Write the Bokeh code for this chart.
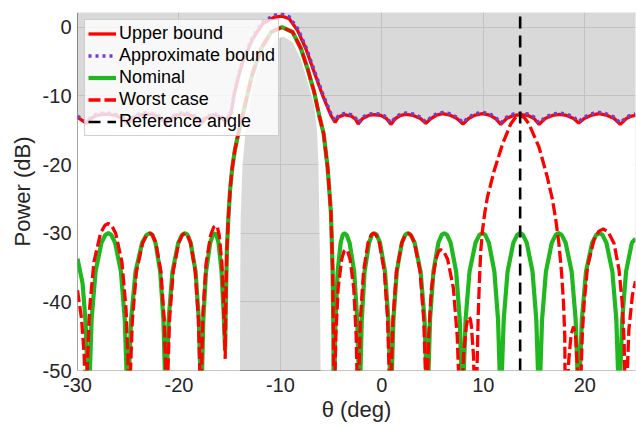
from bokeh.plotting import figure
from bokeh.models import Range1d, FixedTicker, Span
from bokeh.embed import file_html
from bokeh.resources import INLINE

# ---------------- data ----------------
x_lim = [-30, 25]
y_lim = [-50, 2.14]
x_ticks = [-30, -20, -10, 0, 10, 20]
x_tick_labels = ["-30", "-20", "-10", "0", "10", "20"]
y_ticks = [-50, -40, -30, -20, -10, 0]
y_tick_labels = ["-50", "-40", "-30", "-20", "-10", "0"]
ref_angle = 13.63
floor_level = -60

# Upper bound
ub_x = [-30.0, -29.1, -28.7, -28.1, -27.2, -26.3, -25.5, -25.05, -24.6, -23.9, -23.2, -22.4, -21.75, -21.3,
        -20.85, -20.2, -19.55, -18.9, -18.25, -17.8, -17.4, -16.6, -15.9, -15.4, -14.87, -14.55, -14.15,
        -13.72, -13.2, -12.74, -11.75, -10.6, -9.8, -9.13, -8.3, -7.49, -6.67, -5.84, -5.02, -4.6, -4.3,
        -3.7, -3.0, -2.6, -2.33, -1.9, -1.3, -0.75, -0.1, 0.45, 0.89, 1.35, 1.85, 2.36, 3.1, 3.8, 4.33,
        4.85, 5.4, 5.98, 6.7, 7.4, 8.0, 8.55, 9.2, 9.92, 10.6, 11.2, 11.72, 12.3, 12.95, 13.7, 14.4, 15.0,
        15.5, 16.1, 16.8, 17.5, 18.2, 18.9, 19.4, 20.0, 20.7, 21.4, 22.1, 22.9, 23.5, 24.1, 24.6, 25.0]
ub_y = [-13.15, -14.0, -13.3, -12.85, -12.65, -12.85, -13.3, -14.05, -13.3, -12.8, -12.65, -12.8, -13.3, -14.05,
        -13.3, -12.8, -12.65, -12.8, -13.3, -14.05, -13.3, -12.75, -13.1, -13.75, -12.6, -9.8, -7.3,
        -5.1, -3.3, -1.7, 0.5, 1.46, 1.6, 1.22, -0.5, -3.14, -6.55, -9.94, -12.85, -13.85, -13.1,
        -12.75, -12.95, -13.4, -14.1, -13.3, -12.85, -12.75, -12.85, -13.3, -14.15, -13.3, -12.85, -12.7, -12.85, -13.3, -14.0,
        -13.3, -12.8, -12.6, -12.8, -13.3, -14.1, -13.3, -12.8, -12.6, -12.8, -13.3, -14.15, -13.3, -12.85, -12.75, -12.85, -13.3,
        -14.15, -13.3, -12.85, -12.7, -12.85, -13.3, -13.95, -13.25, -12.8, -12.6, -12.8, -13.3, -14.15, -13.3, -12.95, -12.85]

# Approximate bound (sits just above the upper bound)
ap_y = [-12.95, -13.8, -13.1, -12.65, -12.45, -12.65, -13.1, -13.85, -13.1, -12.6, -12.45, -12.6, -13.1, -13.85,
        -13.1, -12.6, -12.45, -12.6, -13.1, -13.85, -13.1, -12.55, -12.9, -13.55, -12.35, -9.5, -7.0,
        -4.8, -3.0, -1.4, 0.8, 1.75, 1.9, 1.52, -0.2, -2.85, -6.25, -9.65, -12.6, -13.65, -12.9,
        -12.55, -12.75, -13.2, -13.9, -13.1, -12.65, -12.55, -12.65, -13.1, -13.95, -13.1, -12.65, -12.5, -12.65, -13.1, -13.8,
        -13.1, -12.6, -12.4, -12.6, -13.1, -13.9, -13.1, -12.6, -12.4, -12.6, -13.1, -13.95, -13.1, -12.65, -12.55, -12.65, -13.1,
        -13.95, -13.1, -12.65, -12.5, -12.65, -13.1, -13.75, -13.05, -12.6, -12.4, -12.6, -13.1, -13.95, -13.1, -12.75, -12.65]

# Lower mask of the main beam (grey area inside the beam)
lb_x = [-14.0, -13.97, -13.92, -13.75, -13.45, -12.95, -12.3, -11.3, -10.3, -9.7, -8.8, -8.0, -7.32, -6.67,
        -6.38, -6.25, -6.12, -6.0]
lb_y = [-60.0, -40.0, -28.0, -20.4, -15.5, -10.7, -6.3, -3.4, -1.7, -1.35, -2.2, -4.6, -8.0, -11.4,
        -15.3, -20.0, -32.0, -60.0]

# Nominal pattern
nom_x = [-30.0, -29.5, -29.2, -29.03, -28.9,
         -28.78, -28.61, -28.22, -27.64, -27.25, -26.96, -26.67, -26.29, -25.72, -25.34, -25.17, -25.05,
         -24.92, -24.72, -24.28, -23.63, -23.19, -22.86, -22.63, -22.31, -21.85, -21.53, -21.39, -21.3,
         -21.19, -21.02, -20.64, -20.07, -19.69, -19.4, -19.16, -18.84, -18.36, -18.04, -17.9, -17.8,
         -17.72, -17.6, -17.33, -16.92, -16.65, -16.45, -16.3, -16.1, -15.8, -15.6, -15.45,
         -15.38, -15.28, -15.12, -14.95, -14.75, -14.5, -14.15, -13.5, -12.8, -11.9, -10.9, -9.85,
         -8.8, -7.98, -7.32, -6.67, -6.18, -5.74, -5.35, -5.02, -4.86, -4.77, -4.72,
         -4.66, -4.57, -4.36, -4.06, -3.85, -3.7, -3.48, -3.18, -2.73, -2.43, -2.29, -2.2,
         -2.11, -1.98, -1.7, -1.26, -0.98, -0.76, -0.51, -0.18, 0.31, 0.64, 0.79, 0.89,
         0.99, 1.14, 1.47, 1.97, 2.30, 2.55, 2.84, 3.23, 3.82, 4.21, 4.38, 4.5,
         4.6, 4.75, 5.08, 5.57, 5.90, 6.15, 6.42, 6.78, 7.32, 7.68, 7.84, 7.95,
         8.07, 8.25, 8.64, 9.23, 9.62, 9.92, 10.19, 10.55, 11.09, 11.45, 11.61, 11.72,
         11.83, 12.01, 12.39, 12.96, 13.34, 13.63, 13.91, 14.28, 14.85, 15.22, 15.39, 15.5,
         15.62, 15.79, 16.17, 16.75, 17.13, 17.42, 17.72, 18.11, 18.71, 19.1, 19.28, 19.4,
         19.52, 19.71, 20.12, 20.73, 21.14, 21.45, 21.74, 22.13, 22.72, 23.11, 23.28, 23.4,
         23.51, 23.69, 24.07, 24.64, 25.0]
nom_y = [-33.7, -37.3, -43.0, -50.2, -70.0,
         -50.2, -42.6, -35.6, -31.4, -30.24, -30.0, -30.24, -31.4, -35.6, -42.6, -50.2, -70.0,
         -50.2, -42.6, -35.6, -31.4, -30.24, -30.0, -30.24, -31.4, -35.6, -42.6, -50.2, -70.0,
         -50.2, -42.6, -35.6, -31.4, -30.24, -30.0, -30.24, -31.4, -35.6, -42.6, -50.2, -70.0,
         -50.2, -42.6, -35.6, -31.4, -30.24, -30.0, -30.24, -31.4, -35.6, -41.5, -47.0,
         -40.0, -32.5, -27.5, -23.5, -20.5, -18.0, -15.5, -11.4, -7.0, -3.1, -0.7, 0.0,
         -0.7, -3.1, -6.05, -9.46, -12.85, -15.5, -20.4, -27.0, -35.0, -45.0, -70.0,
         -50.2, -42.6, -35.6, -31.4, -30.24, -30.0, -30.24, -31.4, -35.6, -42.6, -50.2, -70.0,
         -50.2, -42.6, -35.6, -31.4, -30.24, -30.0, -30.24, -31.4, -35.6, -42.6, -50.2, -70.0,
         -50.2, -42.6, -35.6, -31.4, -30.24, -30.0, -30.24, -31.4, -35.6, -42.6, -50.2, -70.0,
         -50.2, -42.6, -35.6, -31.4, -30.24, -30.0, -30.24, -31.4, -35.6, -42.6, -50.2, -70.0,
         -50.2, -42.6, -35.6, -31.4, -30.24, -30.0, -30.24, -31.4, -35.6, -42.6, -50.2, -70.0,
         -50.2, -42.6, -35.6, -31.4, -30.24, -30.0, -30.24, -31.4, -35.6, -42.6, -50.2, -70.0,
         -50.2, -42.6, -35.6, -31.4, -30.24, -30.0, -30.24, -31.4, -35.6, -42.6, -50.2, -70.0,
         -50.2, -42.6, -35.6, -31.4, -30.24, -30.0, -30.24, -31.4, -35.6, -42.6, -50.2, -70.0,
         -50.2, -42.6, -35.6, -31.4, -30.8]

# Worst case pattern
wc_x = [-30.0, -29.6, -29.35, -29.25, -29.15,
        -29.02, -28.82, -28.38, -27.73, -27.29, -26.96, -26.65, -26.24, -25.62, -25.21, -25.02, -24.9,
        -24.78, -24.59, -24.19, -23.57, -23.17, -22.86, -22.61, -22.28, -21.78, -21.45, -21.3, -21.2,
        -21.09, -20.93, -20.57, -20.03, -19.67, -19.4, -19.17, -18.86, -18.39, -18.08, -17.94, -17.85,
        -17.76, -17.63, -17.33, -16.88, -16.58, -16.35, -16.21, -16.03, -15.76, -15.58, -15.44,
        -15.38, -15.28, -15.12, -14.95, -14.75, -14.5, -14.15, -13.5, -12.8, -11.9, -10.9, -9.85,
        -8.8, -7.98, -7.32, -6.67, -6.18, -5.74, -5.35, -5.02, -4.86, -4.77, -4.72,
        -4.65, -4.54, -4.31, -3.96, -3.73, -3.55, -3.37, -3.13, -2.77, -2.53, -2.42, -2.35,
        -2.26, -2.12, -1.81, -1.36, -1.05, -0.82, -0.57, -0.25, 0.25, 0.57, 0.72, 0.82,
        0.93, 1.09, 1.44, 1.97, 2.32, 2.59, 2.86, 3.22, 3.77, 4.13, 4.29, 4.4,
        4.48, 4.61, 4.89, 5.32, 5.6, 5.81, 6.1, 6.48, 7.05, 7.43, 7.61, 7.72,
        7.88, 8.05, 8.32, 8.47, 8.6, 8.72, 8.83, 9.03, 9.16, 9.26,
        9.35, 9.49, 9.63, 9.75, 9.92, 10.15, 10.41, 11.07, 11.9, 12.7, 13.15, 13.63, 14.05, 14.5,
        15.5, 16.3, 16.8, 17.14, 17.45, 17.7, 17.9, 18.03, 18.13,
        18.25, 18.42, 18.65, 18.9, 19.1, 19.27, 19.37, 19.44,
        19.6, 19.75, 19.93, 20.27, 20.9, 21.4, 21.82, 22.3, 22.89, 23.38, 23.7, 23.88, 23.97, 24.04,
        24.15, 24.35, 24.7, 25.0]
wc_y = [-38.3, -42.5, -47.5, -52.0, -70.0,
        -48.8, -41.2, -34.2, -30.0, -28.84, -28.6, -28.84, -30.0, -34.2, -41.2, -48.8, -70.0,
        -50.2, -42.6, -35.6, -31.4, -30.24, -30.0, -30.24, -31.4, -35.6, -42.6, -50.2, -70.0,
        -50.2, -42.6, -35.6, -31.4, -30.24, -30.0, -30.24, -31.4, -35.6, -42.6, -50.2, -70.0,
        -49.1, -41.5, -34.5, -30.3, -29.14, -28.9, -29.14, -30.3, -34.5, -41.5, -48.3,
        -40.0, -32.5, -27.5, -23.5, -20.5, -18.0, -15.5, -11.4, -7.0, -3.1, -0.7, 0.0,
        -0.7, -3.1, -6.05, -9.46, -12.85, -15.5, -20.4, -27.0, -35.0, -45.0, -70.0,
        -52.6, -45.0, -38.0, -33.8, -32.64, -32.4, -32.64, -33.8, -38.0, -45.0, -52.6, -70.0,
        -50.2, -42.6, -35.6, -31.4, -30.24, -30.0, -30.24, -31.4, -35.6, -42.6, -50.2, -70.0,
        -50.2, -42.6, -35.6, -31.4, -30.24, -30.0, -30.24, -31.4, -35.6, -42.6, -50.2, -70.0,
        -52.6, -45.0, -38.0, -33.8, -32.64, -32.4, -32.64, -33.8, -38.0, -45.0, -52.6, -70.0,
        -54.8, -47.8, -43.6, -42.5, -42.2, -42.5, -43.6, -47.8, -54.8, -70.0,
        -52.0, -42.2, -36.4, -32.5, -29.6, -27.0, -24.7, -20.9, -17.0, -14.1, -13.2, -12.85, -13.2, -14.1,
        -17.5, -21.8, -25.0, -28.0, -31.5, -35.5, -40.0, -45.0, -70.0,
        -55.0, -48.5, -44.8, -43.6, -45.0, -49.5, -56.0, -70.0,
        -52.0, -45.0, -40.3, -34.9, -31.0, -29.7, -29.4, -29.8, -31.5, -35.4, -40.3, -46.0, -53.0, -70.0,
        -52.0, -44.0, -39.0, -37.0]

# ---------------- figure ----------------
FONT = "Liberation Sans"
TXT = "#262626"

p = figure(width=636, height=427,
           x_range=Range1d(x_lim[0], x_lim[1]), y_range=Range1d(y_lim[0], y_lim[1]),
           output_backend="svg", toolbar_location=None,
           min_border_left=77, min_border_right=1, min_border_top=12, min_border_bottom=57)
p.background_fill_color = "#d9d9d9"
p.border_fill_color = "white"
p.outline_line_color = None

p.xgrid.ticker = FixedTicker(ticks=x_ticks)
p.ygrid.ticker = FixedTicker(ticks=y_ticks)
p.grid.grid_line_color = "#c2c2c2"
p.grid.grid_line_width = 1

for ax, ticks, labels in ((p.xaxis, x_ticks, x_tick_labels), (p.yaxis, y_ticks, y_tick_labels)):
    ax.ticker = FixedTicker(ticks=ticks)
    ax.major_label_overrides = {t: l for t, l in zip(ticks, labels)}
    ax.major_label_text_font = FONT
    ax.major_label_text_font_size = "20px"
    ax.major_label_text_color = TXT
    ax.axis_label_text_font = FONT
    ax.axis_label_text_font_size = "22px"
    ax.axis_label_text_font_style = "normal"
    ax.axis_label_text_color = TXT
    ax.major_tick_in = 0
    ax.major_tick_out = 0
    ax.minor_tick_in = 0
    ax.minor_tick_out = 0
    ax.axis_line_color = None

p.xaxis.axis_label = "θ (deg)"
p.yaxis.axis_label = "Power (dB)"
p.xaxis.major_label_standoff = 7
p.yaxis.major_label_standoff = 6
p.xaxis.axis_label_standoff = 2
p.yaxis.axis_label_standoff = 5

# axis lines under the white region, so they show dark only where the background is grey
p.add_layout(Span(location=x_lim[0], dimension="height", line_color=TXT, line_width=1, level="underlay"))
p.add_layout(Span(location=y_lim[0], dimension="width", line_color=TXT, line_width=1, level="underlay"))

# feasible (white) region: below the upper bound and outside the main-beam lower mask
poly_x = ub_x + [ub_x[-1], lb_x[-1]] + lb_x[::-1] + [lb_x[0], ub_x[0]]
poly_y = ub_y + [floor_level, floor_level] + lb_y[::-1] + [floor_level, floor_level]
p.patch(poly_x, poly_y, fill_color="white", line_color=None)

p.line(ub_x, ub_y, line_color="#ff0000", line_width=3.3, legend_label="Upper bound")
p.line(ub_x, ap_y, line_color="#6f3fc7", line_width=3.4, line_dash="3 4", legend_label="Approximate bound")
p.line(nom_x, nom_y, line_color="#1fb81f", line_width=4.2, legend_label="Nominal")
p.line(wc_x, wc_y, line_color="#ff0000", line_width=3.3, line_dash="12 4", legend_label="Worst case")
p.line([ref_angle, ref_angle], [y_lim[0], y_lim[1]], line_color="black", line_width=2.6,
       line_dash="12 7", legend_label="Reference angle")

lg = p.legend[0]
lg.location = "top_left"
lg.margin = 7
lg.padding = 3
lg.spacing = 1
lg.glyph_width = 28
lg.glyph_height = 21
lg.label_height = 21
lg.label_standoff = 3
lg.label_text_font = FONT
lg.label_text_font_size = "18px"
lg.label_text_color = "black"
lg.background_fill_color = "white"
lg.background_fill_alpha = 0.8
lg.border_line_color = "#a0a0a0"
lg.border_line_width = 1

open("out.html", "w").write(file_html(p, INLINE))
